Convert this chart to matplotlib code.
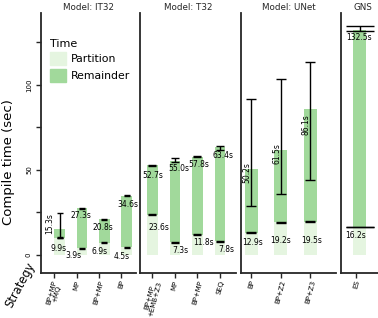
import matplotlib
matplotlib.use('Agg')
import matplotlib.pyplot as plt
from matplotlib.patches import Patch

# ---- data ----
titles = ['Model: IT32', 'Model: T32', 'Model: UNet', 'GNS']

it32_strategies = ['BP+MP\n+MQ', 'MP', 'BP+MP', 'BP']
it32_partition = [9.9, 3.9, 6.9, 4.5]
it32_total = [15.3, 27.3, 20.8, 34.6]
it32_part_err = [0.3, 0.3, 0.3, 0.3]
it32_total_err_lo = [5.3, 0.3, 0.3, 0.3]
it32_total_err_hi = [9.1, 0.3, 0.3, 0.3]

t32_strategies = ['BP+MP\n+EMB+Z3', 'MP', 'BP+MP', 'SEQ']
t32_partition = [23.6, 7.3, 11.8, 7.8]
t32_total = [52.7, 55.0, 57.8, 63.4]
t32_part_err = [0.3, 0.3, 0.3, 0.3]
t32_total_err_lo = [0.3, 0.6, 0.3, 1.8]
t32_total_err_hi = [0.3, 1.8, 0.3, 0.8]

unet_strategies = ['BP', 'BP+Z2', 'BP+Z3']
unet_partition = [12.9, 19.2, 19.5]
unet_total = [50.2, 61.5, 86.1]
unet_part_err = [0.3, 0.3, 0.3]
unet_total_err_lo = [21.3, 25.6, 41.9]
unet_total_err_hi = [41.6, 42.0, 27.2]

gns_strategies = ['ES']
gns_partition = [16.2]
gns_total = [132.5]
gns_part_err = [0.1]
gns_total_err_lo = [0.6]
gns_total_err_hi = [2.2]

panel_data = [
    (it32_strategies, it32_partition, it32_total, it32_part_err, it32_total_err_lo, it32_total_err_hi),
    (t32_strategies, t32_partition, t32_total, t32_part_err, t32_total_err_lo, t32_total_err_hi),
    (unet_strategies, unet_partition, unet_total, unet_part_err, unet_total_err_lo, unet_total_err_hi),
    (gns_strategies, gns_partition, gns_total, gns_part_err, gns_total_err_lo, gns_total_err_hi),
]

# ---- layout (pixels) ----
W, H = 378, 318
top_px, bot_px = 13.3, 273
ax_x = [(41, 136), (140.3, 236), (240.7, 336), (341, 384)]
xlims = [(-0.83, 3.42), (-0.54, 3.71), (-0.36, 2.87), (-0.66, 0.86)]
bar_w = [0.47, 0.46, 0.45, 0.45]
tick_shift = [-0.24, 0.0, 0.0, -0.12]
capsizes = [2.5, 2.6, 3.6, 10.4]
ylim = (-10.8, 142.2)

# label offsets in points: (dx, dy) for total and partition labels, rotation of total
total_off = [[(-7.3, 3.7), (-0.9, -5.3), (-1, -5.5), (0.9, -6)],
             [(0.2, -7.1), (3, -5.5), (1.1, -5.5), (1.9, -5.8)],
             [(-3.3, -2.2), (-2.9, -2.2), (-3.1, -11.3)],
             [(-0.6, -5.5)]]
total_rot = [[90, 0, 0, 0], [0, 0, 0, 0], [90, 90, 90], [0]]
part_off = [[(-0.9, -8.0), (-5.8, -5.7), (-3.4, -5.8), (-3.6, -6.5)],
            [(4.5, -9.4), (3.6, -6), (4.5, -5.5), (4.8, -6.1)],
            [(0.9, -7.1), (-0.5, -13.4), (0.6, -13.7)],
            [(-3.2, -6.3)]]

c_part = '#e5f5e0'
c_rem = '#a1d99b'
spine_c = '0.15'

fig = plt.figure(figsize=(W / 100, H / 100), dpi=100)

for p, (strats, part, total, perr, tlo, thi) in enumerate(panel_data):
    x0, x1 = ax_x[p]
    ax = fig.add_axes([x0 / W, 1 - bot_px / H, (x1 - x0) / W, (bot_px - top_px) / H])
    xs = list(range(len(strats)))
    rem = [t - q for t, q in zip(total, part)]
    ax.bar(xs, part, width=bar_w[p], color=c_part, zorder=1)
    ax.bar(xs, rem, bottom=part, width=bar_w[p], color=c_rem, zorder=1)
    ax.errorbar(xs, part, yerr=[perr, perr], fmt='none', ecolor='black',
                elinewidth=1.0, capsize=capsizes[p], capthick=1.0, zorder=3)
    ax.errorbar(xs, total, yerr=[tlo, thi], fmt='none', ecolor='black',
                elinewidth=1.0, capsize=capsizes[p], capthick=1.0, zorder=3)

    for i in xs:
        dx, dy = total_off[p][i]
        ax.annotate(f'{total[i]}s', (i, total[i]), xytext=(dx, dy),
                    textcoords='offset points', ha='center', va='center',
                    rotation=total_rot[p][i], fontsize=5.5, zorder=4)
        dx, dy = part_off[p][i]
        ax.annotate(f'{part[i]}s', (i, part[i]), xytext=(dx, dy),
                    textcoords='offset points', ha='center', va='center',
                    fontsize=5.5, zorder=4)

    ax.set_xlim(*xlims[p])
    ax.set_ylim(*ylim)
    ax.set_xticks([x + tick_shift[p] for x in xs])
    ax.set_xticklabels(strats, rotation=75, fontsize=5.0, ha='center', va='top',
                       linespacing=0.9)
    ax.tick_params(axis='x', length=3.5, width=1.0, pad=1.2, color=spine_c)
    ax.set_title(titles[p], fontsize=6.3, pad=2.5, color='0.15')
    for s in ['top', 'right']:
        ax.spines[s].set_visible(False)
    for s in ['left', 'bottom']:
        ax.spines[s].set_linewidth(1.3)
        ax.spines[s].set_color(spine_c)
    ax.patch.set_alpha(0)
    if p == 0:
        ax.set_yticks([0, 25, 50, 75, 100, 125])
        ax.set_yticklabels(['0', '', '50', '', '100', ''], rotation=90,
                           fontsize=5, va='center')
        ax.tick_params(axis='y', length=3.5, width=1.0, pad=3, color=spine_c)
        leg = ax.legend(handles=[Patch(color=c_part, label='Partition'),
                                 Patch(color=c_rem, label='Remainder')],
                        title='Time', loc='upper left', frameon=False,
                        bbox_to_anchor=(50 / W, 1 - 39 / H),
                        bbox_transform=fig.transFigure,
                        fontsize=7.8, title_fontsize=8, borderpad=0,
                        borderaxespad=0, handlelength=1.5, handleheight=1.5,
                        labelspacing=0.3, handletextpad=0.4,
                        alignment='left')
    else:
        ax.tick_params(axis='y', left=False, labelleft=False)

fig.text(9 / W, 1 - 162 / H, 'Compile time (sec)', rotation=90,
         ha='center', va='center', fontsize=9.5)
fig.text(20 / W, 1 - 285 / H, 'Strategy', rotation=62,
         ha='center', va='center', fontsize=8.3)

fig.savefig('out.png', dpi=100)
